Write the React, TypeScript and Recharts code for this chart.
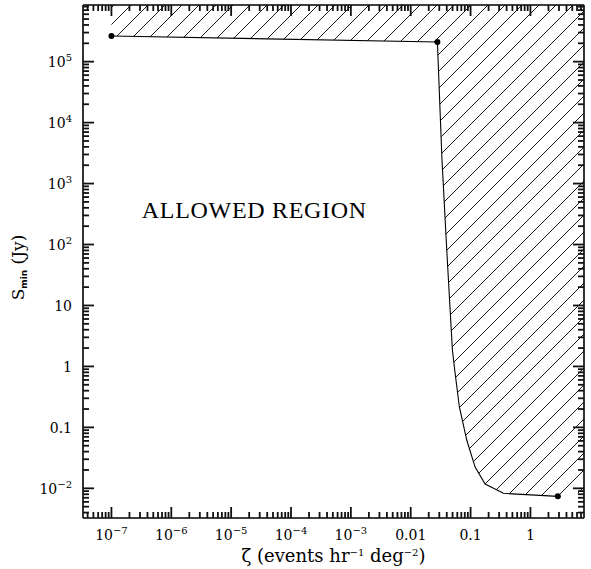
import React from 'react';
import { ComposedChart, XAxis, YAxis, Area, Line, Scatter, ReferenceDot, ReferenceLine } from 'recharts';

// ---- axis ranges (log) ----
const X_DOMAIN: [number, number] = [3.35e-8, 7.85];
const Y_DOMAIN: [number, number] = [3.26e-3, 8.5e5];

// ---- boundary curve of the excluded region ----
const zeta = [1e-7, 0.0279, 0.0333, 0.04, 0.0497, 0.0551, 0.065, 0.0863, 0.119, 0.175, 0.354, 2.87];
const sMin = [2.64e5, 2.1e5, 2440, 81, 1.86, 0.78, 0.216, 0.062, 0.0223, 0.01175, 0.00828, 0.00738];
const markedIdx = [0, 1, 11];
const hatchEdgeZeta = 7.85;
const hatchEdgeS = 0.0086;

// ---- tick labels ----
const xMajor = [1e-7, 1e-6, 1e-5, 1e-4, 1e-3, 0.01, 0.1, 1];
const xMajorLabels = ['10^−7', '10^−6', '10^−5', '10^−4', '10^−3', '0.01', '0.1', '1'];
const yMajor = [0.01, 0.1, 1, 10, 100, 1e3, 1e4, 1e5];
const yMajorLabels = ['10^−2', '0.1', '1', '10', '10^2', '10^3', '10^4', '10^5'];

// ---- annotation ----
const annotationText = 'ALLOWED REGION';
const annotationZeta = 2.44e-5;
const annotationS = 272;

const curve = zeta.map((z, i) => ({ zeta: z, sMin: sMin[i] }));
const hatchData = [...curve, { zeta: hatchEdgeZeta, sMin: hatchEdgeS }];
const dots = markedIdx.map((i) => curve[i]);

const W = 591;
const H = 569;
const MARGIN = { top: 5, right: 7, bottom: 0, left: 0 };
const PLOT_TOP = MARGIN.top;
const PLOT_RIGHT = W - MARGIN.right;
const Y_AXIS_W = 83;
const X_AXIS_H = 51;
const PLOT_BOTTOM = H - MARGIN.bottom - X_AXIS_H;

function logTicks(domain: [number, number]) {
  const out: number[] = [];
  const d0 = Math.floor(Math.log10(domain[0]));
  const d1 = Math.ceil(Math.log10(domain[1]));
  for (let d = d0; d <= d1; d++) {
    for (let m = 1; m <= 9; m++) {
      const v = m * Math.pow(10, d);
      if (v >= domain[0] && v <= domain[1]) out.push(v);
    }
  }
  return out;
}
const xTicks = logTicks(X_DOMAIN);
const yTicks = logTicks(Y_DOMAIN);

const isMajor = (v: number) => Math.abs(Math.log10(v) - Math.round(Math.log10(v))) < 1e-6;
const findIdx = (arr: number[], v: number) => arr.findIndex((t) => Math.abs(t - v) / t < 1e-6);

const FONT = "'DejaVu Serif', serif";
const MAJOR = 11;
const MINOR = 6;
const TICK_W = 1.8;
const TICK_C = '#111111';

const TickText = ({ x, y, anchor, label }: any) => {
  const [base, exp] = label.split('^');
  return (
    <text x={x} y={y} textAnchor={anchor} fontFamily={FONT} fontSize={14} fill="#000">
      {base}
      {exp && (
        <tspan dy={-6} fontSize={10}>
          {exp}
        </tspan>
      )}
    </text>
  );
};

const BottomTick = (props: any) => {
  const { x, y, payload, index } = props;
  const v = payload.value;
  const len = isMajor(v) ? MAJOR : MINOR;
  const idx = findIdx(xMajor, v);
  return (
    <g>
      <path d={`M${x},${y}L${x},${y - len}`} stroke={TICK_C} strokeWidth={TICK_W} fill="none" />
      <path d={`M${x},${PLOT_TOP}L${x},${PLOT_TOP + len}`} stroke={TICK_C} strokeWidth={TICK_W} fill="none" />
      {idx >= 0 && <TickText x={x} y={y + 22} anchor="middle" label={xMajorLabels[idx]} />}
      {index === 0 && (
        <text
          x={Y_AXIS_W + (PLOT_RIGHT - Y_AXIS_W) / 2}
          y={y + 44}
          textAnchor="middle"
          fontFamily={FONT}
          fontSize={18}
          fill="#000"
        >
          ζ (events hr
          <tspan dy={-6} fontSize={10}>−1</tspan>
          <tspan dy={6}> deg</tspan>
          <tspan dy={-6} fontSize={10}>−2</tspan>
          <tspan dy={6}>)</tspan>
        </text>
      )}
    </g>
  );
};

const LeftTick = (props: any) => {
  const { x, y, payload, index } = props;
  const v = payload.value;
  const len = isMajor(v) ? MAJOR : MINOR;
  const idx = findIdx(yMajor, v);
  const cx = 24;
  const cy = (PLOT_TOP + PLOT_BOTTOM) / 2 + 6;
  return (
    <g>
      <path d={`M${x},${y}L${x + len},${y}`} stroke={TICK_C} strokeWidth={TICK_W} fill="none" />
      <path d={`M${PLOT_RIGHT},${y}L${PLOT_RIGHT - len},${y}`} stroke={TICK_C} strokeWidth={TICK_W} fill="none" />
      {idx >= 0 && <TickText x={x - 11} y={y + 5.5} anchor="end" label={yMajorLabels[idx]} />}
      {index === 0 && (
        <text
          x={cx}
          y={cy}
          textAnchor="middle"
          transform={`rotate(-90, ${cx}, ${cy})`}
          fontFamily={FONT}
          fontSize={17}
          fill="#000"
        >
          S
          <tspan dy={3} fontSize={9} fontFamily="'DejaVu Sans', sans-serif" fontWeight="bold">min</tspan>
          <tspan dy={-3}>  (Jy)</tspan>
        </text>
      )}
    </g>
  );
};

const axisLine = { stroke: '#000', strokeWidth: 1.6 };

export default function App() {
  return (
    <div style={{ position: 'absolute', left: 0, top: 0, width: W, height: H, background: '#fff' }}>
      <ComposedChart width={W} height={H} margin={MARGIN}>
        <defs>
          <pattern id="hatch" patternUnits="userSpaceOnUse" width="17" height="17">
            <path d="M-2,2 L2,-2 M0,17 L17,0 M15,19 L19,15" stroke="#000" strokeWidth={0.9} />
          </pattern>
        </defs>
        <XAxis
          dataKey="zeta"
          type="number"
          scale="log"
          domain={X_DOMAIN}
          allowDataOverflow
          ticks={xTicks}
          interval={0}
          tick={BottomTick}
          tickLine={false}
          tickSize={0}
          tickMargin={0}
          axisLine={axisLine}
          height={X_AXIS_H}
        />
        <YAxis
          dataKey="sMin"
          type="number"
          scale="log"
          domain={Y_DOMAIN}
          allowDataOverflow
          ticks={yTicks}
          interval={0}
          tick={LeftTick}
          tickLine={false}
          tickSize={0}
          tickMargin={0}
          axisLine={axisLine}
          width={Y_AXIS_W}
        />
        <Area
          data={hatchData}
          dataKey="sMin"
          type="linear"
          baseValue="dataMax"
          fill="url(#hatch)"
          fillOpacity={1}
          stroke="none"
          isAnimationActive={false}
        />
        <ReferenceLine y={Y_DOMAIN[1]} stroke="#000" strokeWidth={1.6} ifOverflow="visible" />
        <ReferenceLine x={X_DOMAIN[1]} stroke="#000" strokeWidth={1.6} ifOverflow="visible" />
        <Line
          data={curve}
          dataKey="sMin"
          type="linear"
          stroke="#000"
          strokeWidth={1.1}
          dot={false}
          activeDot={false}
          isAnimationActive={false}
        />
        <Scatter
          data={dots}
          dataKey="sMin"
          fill="#000"
          shape={(p: any) => <circle cx={p.cx} cy={p.cy} r={3} fill="#000" />}
          isAnimationActive={false}
        />
        <ReferenceDot
          x={annotationZeta}
          y={annotationS}
          r={0}
          shape={(p: any) => (
            <text
              x={p.cx}
              y={p.cy}
              textAnchor="middle"
              fontFamily="'Liberation Serif', serif"
              fontSize={24}
              letterSpacing={0.7}
              fill="#000"
            >
              {annotationText}
            </text>
          )}
        />
      </ComposedChart>
    </div>
  );
}
